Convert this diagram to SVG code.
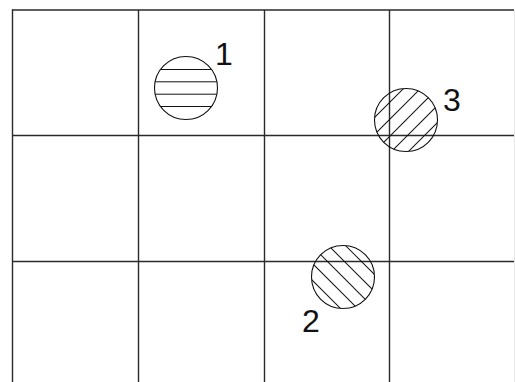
<svg xmlns="http://www.w3.org/2000/svg" width="515" height="382" viewBox="0 0 515 382">
<style>
.grid{stroke:#2a2a2a;stroke-width:1.4;fill:none}
.ring{fill:none;stroke:#111;stroke-width:1.1}
.hatch{stroke:#111;stroke-width:1}
.lbl{font-family:"Liberation Sans",Arial,sans-serif;font-size:32px;fill:#111}
</style>
<defs>
<clipPath id="c"><circle cx="0" cy="0" r="31.5"/></clipPath>
</defs>
<rect width="515" height="382" fill="#fff"/>
<g id="grid">
<line class="grid" x1="12.5" y1="10" x2="514" y2="10"/>
<line class="grid" x1="12.5" y1="135.5" x2="514" y2="135.5"/>
<line class="grid" x1="12.5" y1="261.5" x2="514" y2="261.5"/>
<line class="grid" x1="12.5" y1="9.3" x2="12.5" y2="382"/>
<line class="grid" x1="138.5" y1="10" x2="138.5" y2="382"/>
<line class="grid" x1="264.5" y1="10" x2="264.5" y2="382"/>
<line class="grid" x1="389.5" y1="10" x2="389.5" y2="382"/>
<line x1="514.6" y1="10" x2="514.6" y2="382" stroke="#e6e6e6" stroke-width="1"/>
</g>
<g id="node1">
<g transform="translate(186,88)">
<g clip-path="url(#c)">
<line class="hatch" x1="-40" y1="-18.5" x2="40" y2="-18.5"/>
<line class="hatch" x1="-40" y1="-6.2" x2="40" y2="-6.2"/>
<line class="hatch" x1="-40" y1="6.2" x2="40" y2="6.2"/>
<line class="hatch" x1="-40" y1="18.5" x2="40" y2="18.5"/>
</g>
<circle class="ring" r="31.5"/>
</g>
<text class="lbl" x="215" y="65">1</text>
</g>
<g id="node3">
<g transform="translate(406,120)">
<g clip-path="url(#c)" transform="rotate(-45)">
<line class="hatch" x1="-40" y1="-24" x2="40" y2="-24"/>
<line class="hatch" x1="-40" y1="-12" x2="40" y2="-12"/>
<line class="hatch" x1="-40" y1="0" x2="40" y2="0"/>
<line class="hatch" x1="-40" y1="12" x2="40" y2="12"/>
<line class="hatch" x1="-40" y1="24" x2="40" y2="24"/>
</g>
<circle class="ring" r="31.5"/>
</g>
<text class="lbl" x="443" y="110.5">3</text>
</g>
<g id="node2">
<g transform="translate(343,277)">
<g clip-path="url(#c)" transform="rotate(45)">
<line class="hatch" x1="-40" y1="-24" x2="40" y2="-24"/>
<line class="hatch" x1="-40" y1="-12" x2="40" y2="-12"/>
<line class="hatch" x1="-40" y1="0" x2="40" y2="0"/>
<line class="hatch" x1="-40" y1="12" x2="40" y2="12"/>
<line class="hatch" x1="-40" y1="24" x2="40" y2="24"/>
</g>
<circle class="ring" r="31.5"/>
</g>
<text class="lbl" x="302" y="331.5">2</text>
</g>
</svg>
